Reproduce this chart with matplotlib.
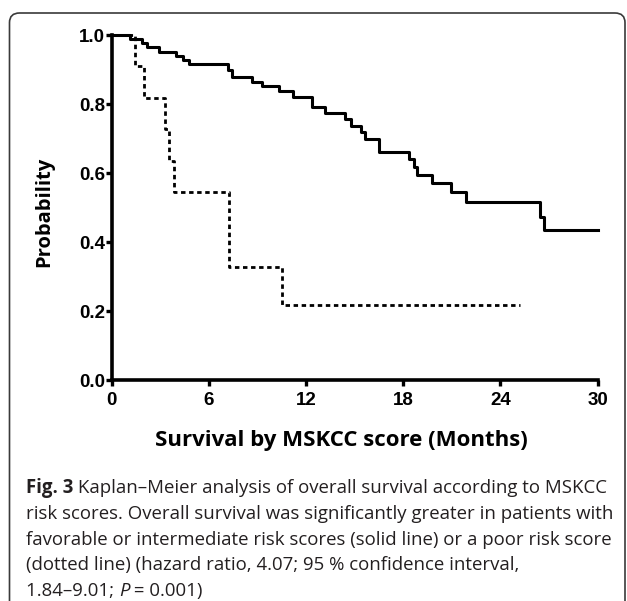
import matplotlib
matplotlib.use("Agg")
import matplotlib.pyplot as plt
from matplotlib.patches import FancyBboxPatch

# Kaplan-Meier steps (months, survival probability)
fav_months = [0, 1.13, 1.85, 2.19, 2.93, 3.96, 4.40, 4.77, 7.17, 7.44, 8.67, 9.28,
              10.30, 11.20, 12.35, 13.19, 14.40, 14.75, 15.42, 15.61, 16.49, 18.37,
              18.64, 18.84, 19.76, 20.95, 21.87, 26.42, 26.68, 30.0]
fav_surv = [1.0, 0.988, 0.977, 0.965, 0.951, 0.939, 0.927, 0.915, 0.899, 0.877, 0.865,
            0.851, 0.839, 0.820, 0.791, 0.775, 0.757, 0.737, 0.720, 0.700, 0.660,
            0.640, 0.618, 0.594, 0.570, 0.544, 0.515, 0.473, 0.435, 0.435]

poor_months = [0, 1.45, 2.0, 3.3, 3.55, 3.85, 7.26, 10.54, 25.2]
poor_surv = [1.0, 0.909, 0.818, 0.727, 0.636, 0.545, 0.327, 0.218, 0.218]

xticks = [0, 6, 12, 18, 24, 30]
yticks = [0.0, 0.2, 0.4, 0.6, 0.8, 1.0]

caption = [
    [("Fig. 3", "bold", "normal"),
     (" Kaplan\u2013Meier analysis of overall survival according to MSKCC", "normal", "normal")],
    [("risk scores. Overall survival was significantly greater in patients with", "normal", "normal")],
    [("favorable or intermediate risk scores (solid line) or a poor risk score", "normal", "normal")],
    [("(dotted line) (hazard ratio, 4.07; 95 % confidence interval,", "normal", "normal")],
    [("1.84\u20139.01; ", "normal", "normal"), ("P", "normal", "italic"),
     (" = 0.001)", "normal", "normal")],
]

tick_font = ["Liberation Sans Narrow", "Liberation Sans"]
label_font = ["Open Sans", "DejaVu Sans"]

fig = plt.figure(figsize=(6.27, 6.01), dpi=100)
ax = fig.add_axes([0.178, 0.3677, 0.7753, 0.574])

ax.step(poor_months, poor_surv, where="post", color="black", lw=2.0,
        linestyle=(0, (1.6, 1.3)), clip_on=False)
ax.step(fav_months, fav_surv, where="post", color="black", lw=2.2, clip_on=False)

ax.set_xlim(0, 30)
ax.set_ylim(0, 1.0)
for side in ["top", "right"]:
    ax.spines[side].set_visible(False)
for side in ["left", "bottom"]:
    ax.spines[side].set_linewidth(2.6)
ax.set_xticks(xticks)
ax.set_yticks(yticks)
ax.set_xticklabels([str(v) for v in xticks], family=tick_font, weight="bold", fontsize=13.5)
ax.set_yticklabels([f"{v:.1f}" for v in yticks], family=tick_font, weight="bold", fontsize=13.5)
ax.tick_params(direction="out", length=4, width=2.4)
ax.tick_params(axis="x", pad=4.5)
ax.tick_params(axis="y", pad=0.5)

fig.text(0.545, 1 - 446 / 601, "Survival by MSKCC score (Months)", ha="center",
         va="baseline", family=label_font, weight="bold", fontsize=16)
fig.text(0.070, 0.647, "Probability", ha="center", va="center", rotation=90,
         family=label_font, weight="bold", fontsize=14.5)

# caption, one run at a time so that "Fig. 3" and P can change style
fig.canvas.draw()
renderer = fig.canvas.get_renderer()
x0 = 26 / 627
y_base = 493
for line in caption:
    x = x0
    for txt, wt, st in line:
        t = fig.text(x, 1 - y_base / 601, txt, ha="left", va="baseline",
                     family=label_font, weight=wt, style=st, fontsize=13.4,
                     color="#231f20")
        bb = t.get_window_extent(renderer=renderer)
        x = bb.x1 / fig.bbox.width
    y_base += 25.8

# rounded frame round the whole figure
frame = FancyBboxPatch((9.5 / 627, -0.05), (625 - 9.5) / 627, 1.05 - 13 / 601,
                       boxstyle="round,pad=0,rounding_size=0.016",
                       transform=fig.transFigure, fill=False, lw=1.2,
                       edgecolor="#3a3a3a", clip_on=False)
fig.patches.append(frame)

fig.savefig("out.png", dpi=100)
